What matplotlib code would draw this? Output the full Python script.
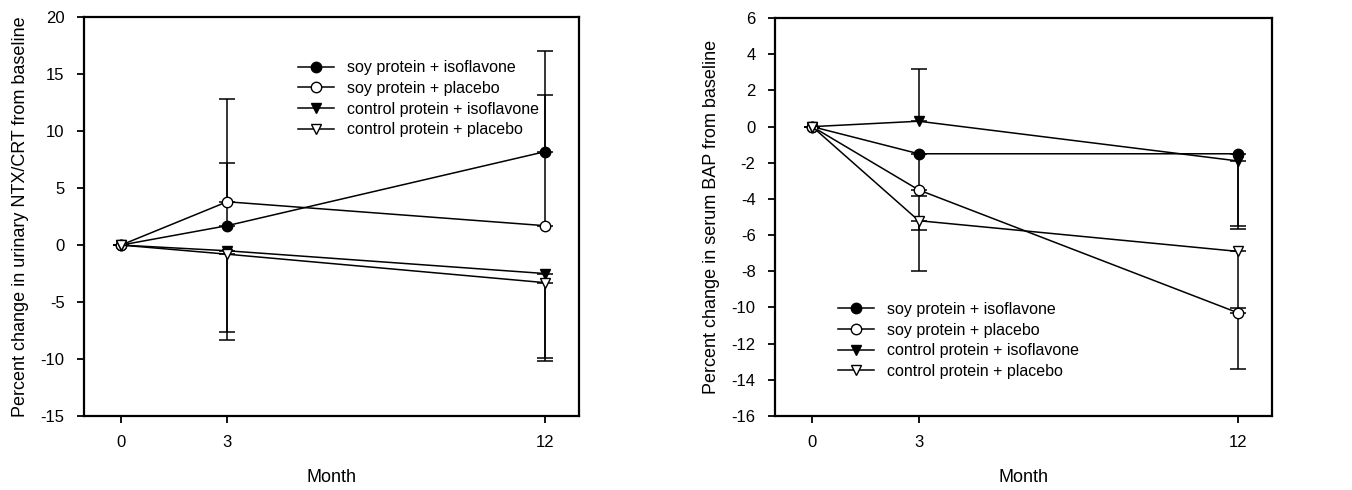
import matplotlib
matplotlib.use("Agg")
import matplotlib.pyplot as plt

plt.rcParams["font.family"] = ["Liberation Sans", "DejaVu Sans"]
plt.rcParams["axes.unicode_minus"] = False

months = [0, 3, 12]
labels = ["soy protein + isoflavone", "soy protein + placebo",
          "control protein + isoflavone", "control protein + placebo"]

# urinary NTX/CRT, percent change
ntx_soy_iso = [0, 1.7, 8.2]
ntx_soy_pla = [0, 3.8, 1.7]
ntx_ctl_iso = [0, -0.5, -2.5]
ntx_ctl_pla = [0, -0.8, -3.3]
# one-sided error bars: (lower, upper)
ntx_soy_iso_err = ([0, 0, 0], [0, 5.5, 8.8])
ntx_soy_pla_err = ([0, 0, 0], [0, 9.0, 11.5])
ntx_ctl_iso_err = ([0, 7.1, 7.4], [0, 0, 0])
ntx_ctl_pla_err = ([0, 7.5, 6.9], [0, 0, 0])

# serum BAP, percent change
bap_soy_iso = [0, -1.5, -1.5]
bap_soy_pla = [0, -3.5, -10.3]
bap_ctl_iso = [0, 0.3, -1.9]
bap_ctl_pla = [0, -5.2, -6.9]
bap_soy_iso_err = ([0, 2.35, 4.0], [0, 0, 0])
bap_soy_pla_err = ([0, 2.2, 3.1], [0, 0, 0])
bap_ctl_iso_err = ([0, 0, 3.75], [0, 2.9, 0])
bap_ctl_pla_err = ([0, 2.8, 3.15], [0, 0, 0])

styles = [("o", "black"), ("o", "white"), ("v", "black"), ("v", "white")]


def draw_panel(ax, series, errs, ylabel, ylim, yticks, leg_pos):
    for y, e, st, lab in zip(series, errs, styles, labels):
        ax.errorbar(months, y, yerr=[e[0], e[1]], color="black", lw=1.1,
                    capsize=6, capthick=1.1, elinewidth=1.1, marker=st[0],
                    mfc=st[1], mec="black", ms=7.5, label=lab)
    ax.set_xlim(-1.05, 12.95)
    ax.set_ylim(*ylim)
    ax.set_xticks(months)
    ax.set_yticks(yticks)
    ax.tick_params(direction="out", length=5, width=1.3, labelsize=12, pad=9)
    for s in ax.spines.values():
        s.set_linewidth(1.6)
    ax.set_xlabel("Month", fontsize=13, labelpad=13)
    ax.set_ylabel(ylabel, fontsize=13, labelpad=8)
    handles, labs = ax.get_legend_handles_labels()
    handles = [h[0] for h in handles]
    ax.legend(handles, labs, loc="upper left", bbox_to_anchor=leg_pos,
              frameon=False, fontsize=11.5, handlelength=2.3, borderpad=0,
              borderaxespad=0, labelspacing=0.36, handletextpad=0.8)


fig = plt.figure(figsize=(13.52, 4.9), dpi=100)
ax1 = fig.add_axes([0.0621, 0.151, 0.366, 0.814])
ax2 = fig.add_axes([0.5732, 0.151, 0.3676, 0.812])

draw_panel(ax1, [ntx_soy_iso, ntx_soy_pla, ntx_ctl_iso, ntx_ctl_pla],
           [ntx_soy_iso_err, ntx_soy_pla_err, ntx_ctl_iso_err, ntx_ctl_pla_err],
           "Percent change in urinary NTX/CRT from baseline",
           (-15, 20), range(-15, 21, 5), (0.432, 0.892))
draw_panel(ax2, [bap_soy_iso, bap_soy_pla, bap_ctl_iso, bap_ctl_pla],
           [bap_soy_iso_err, bap_soy_pla_err, bap_ctl_iso_err, bap_ctl_pla_err],
           "Percent change in serum BAP from baseline",
           (-16, 6), range(-16, 7, 2), (0.126, 0.287))

fig.savefig("out.png", dpi=100)
